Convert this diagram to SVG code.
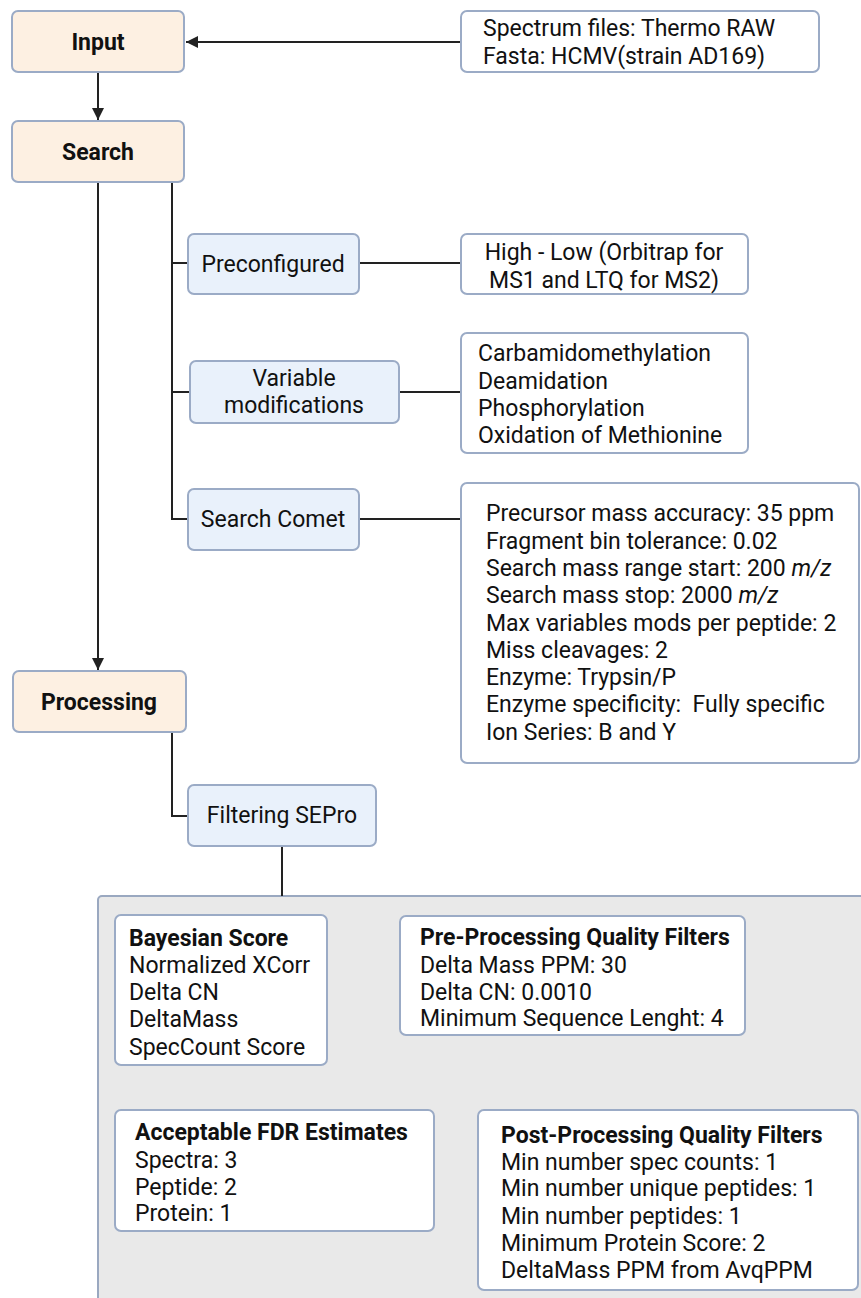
<svg xmlns="http://www.w3.org/2000/svg" width="861" height="1298" viewBox="0 0 861 1298">
<style>
.o{fill:#fdf0e2;stroke:#9babc6;stroke-width:2}
.b{fill:#e9f1fb;stroke:#9babc6;stroke-width:2}
.w{fill:#ffffff;stroke:#9babc6;stroke-width:2}
.g{fill:#e9e9e9;stroke:#9aa8c0;stroke-width:2}
text{font-family:Roboto,"Liberation Sans",sans-serif;fill:#111}
.h{font-size:23px;font-weight:bold;text-anchor:middle}
.t{font-size:23px}
.c{font-size:23px;text-anchor:middle}
.s{font-size:23px;font-weight:bold}
.ln{fill:none;stroke:#222;stroke-width:2}
</style>
<defs>
<marker id="ah" viewBox="0 0 10 10" refX="10" refY="5" markerWidth="6" markerHeight="6" orient="auto" markerUnits="strokeWidth">
<path d="M0,0 L10,5 L0,10 z" fill="#222"/>
</marker>
</defs>
<rect width="861" height="1298" fill="#ffffff"/>
<g id="sepro-panel">
<rect class="g" x="98" y="896" width="780" height="420" rx="4"/>
</g>
<g id="connectors">
<line class="ln" x1="461" y1="42" x2="186" y2="42" marker-end="url(#ah)"/>
<line class="ln" x1="98" y1="72" x2="98" y2="120" marker-end="url(#ah)"/>
<line class="ln" x1="98" y1="182" x2="98" y2="670" marker-end="url(#ah)"/>
<path class="ln" d="M172,182 V519 H188"/>
<line class="ln" x1="172" y1="263" x2="188" y2="263"/>
<line class="ln" x1="172" y1="392" x2="190" y2="392"/>
<line class="ln" x1="359" y1="263" x2="461" y2="263"/>
<line class="ln" x1="399" y1="392" x2="461" y2="392"/>
<line class="ln" x1="359" y1="519" x2="461" y2="519"/>
<path class="ln" d="M172,732 V816 H188"/>
<line class="ln" x1="282" y1="846" x2="282" y2="896"/>
</g>
<g id="input">
<rect class="o" x="12" y="11" width="172" height="61" rx="6"/>
<text class="h" x="98" y="50">Input</text>
</g>
<g id="spectrum">
<rect class="w" x="461" y="11" width="358" height="61" rx="6"/>
<text class="t" x="483" y="36">Spectrum files: Thermo RAW</text>
<text class="t" x="483" y="64">Fasta: HCMV(strain AD169)</text>
</g>
<g id="search">
<rect class="o" x="12" y="121" width="172" height="61" rx="6"/>
<text class="h" x="98" y="160">Search</text>
</g>
<g id="preconfigured">
<rect class="b" x="188" y="234" width="171" height="60" rx="6"/>
<text class="c" x="273" y="272">Preconfigured</text>
</g>
<g id="highlow">
<rect class="w" x="461" y="234" width="287" height="60" rx="6"/>
<text class="c" x="604" y="260">High - Low (Orbitrap for</text>
<text class="c" x="604" y="288">MS1 and LTQ for MS2)</text>
</g>
<g id="variable">
<rect class="b" x="190" y="361" width="209" height="62" rx="6"/>
<text class="c" x="294" y="386">Variable</text>
<text class="c" x="294" y="413">modifications</text>
</g>
<g id="mods">
<rect class="w" x="461" y="333" width="287" height="120" rx="6"/>
<text class="t" x="478" y="361">Carbamidomethylation</text>
<text class="t" x="478" y="389">Deamidation</text>
<text class="t" x="478" y="416">Phosphorylation</text>
<text class="t" x="478" y="443">Oxidation of Methionine</text>
</g>
<g id="searchcomet">
<rect class="b" x="188" y="489" width="171" height="61" rx="6"/>
<text class="c" x="273" y="527">Search Comet</text>
</g>
<g id="cometparams">
<rect class="w" x="461" y="483" width="398" height="280" rx="6"/>
<text class="t" x="486" y="521">Precursor mass accuracy: 35 ppm</text>
<text class="t" x="486" y="549">Fragment bin tolerance: 0.02</text>
<text class="t" x="486" y="576">Search mass range start: 200 <tspan font-style="italic">m/z</tspan></text>
<text class="t" x="486" y="603">Search mass stop: 2000 <tspan font-style="italic">m/z</tspan></text>
<text class="t" x="486" y="631">Max variables mods per peptide: 2</text>
<text class="t" x="486" y="658">Miss cleavages: 2</text>
<text class="t" x="486" y="685">Enzyme: Trypsin/P</text>
<text class="t" x="486" y="712" xml:space="preserve">Enzyme specificity:  Fully specific</text>
<text class="t" x="486" y="740">Ion Series: B and Y</text>
</g>
<g id="processing">
<rect class="o" x="13" y="671" width="173" height="61" rx="6"/>
<text class="h" x="99" y="710">Processing</text>
</g>
<g id="filtering">
<rect class="b" x="188" y="785" width="188" height="61" rx="6"/>
<text class="c" x="282" y="823">Filtering SEPro</text>
</g>
<g id="bayesian">
<rect class="w" x="115" y="915" width="212" height="150" rx="6"/>
<text class="s" x="129" y="946">Bayesian Score</text>
<text class="t" x="129" y="973">Normalized XCorr</text>
<text class="t" x="129" y="1000">Delta CN</text>
<text class="t" x="129" y="1027">DeltaMass</text>
<text class="t" x="129" y="1055">SpecCount Score</text>
</g>
<g id="preprocessing">
<rect class="w" x="400" y="916" width="345" height="119" rx="6"/>
<text class="s" x="420" y="945">Pre-Processing Quality Filters</text>
<text class="t" x="420" y="973">Delta Mass PPM: 30</text>
<text class="t" x="420" y="1000">Delta CN: 0.0010</text>
<text class="t" x="420" y="1026">Minimum Sequence Lenght: 4</text>
</g>
<g id="fdr">
<rect class="w" x="115" y="1110" width="319" height="121" rx="6"/>
<text class="s" x="135" y="1140">Acceptable FDR Estimates</text>
<text class="t" x="135" y="1168">Spectra: 3</text>
<text class="t" x="135" y="1195">Peptide: 2</text>
<text class="t" x="135" y="1221">Protein: 1</text>
</g>
<g id="postprocessing">
<rect class="w" x="478" y="1110" width="380" height="180" rx="6"/>
<text class="s" x="501" y="1143">Post-Processing Quality Filters</text>
<text class="t" x="501" y="1170">Min number spec counts: 1</text>
<text class="t" x="501" y="1196">Min number unique peptides: 1</text>
<text class="t" x="501" y="1224">Min number peptides: 1</text>
<text class="t" x="501" y="1251">Minimum Protein Score: 2</text>
<text class="t" x="501" y="1278">DeltaMass PPM from AvqPPM</text>
</g>
</svg>
